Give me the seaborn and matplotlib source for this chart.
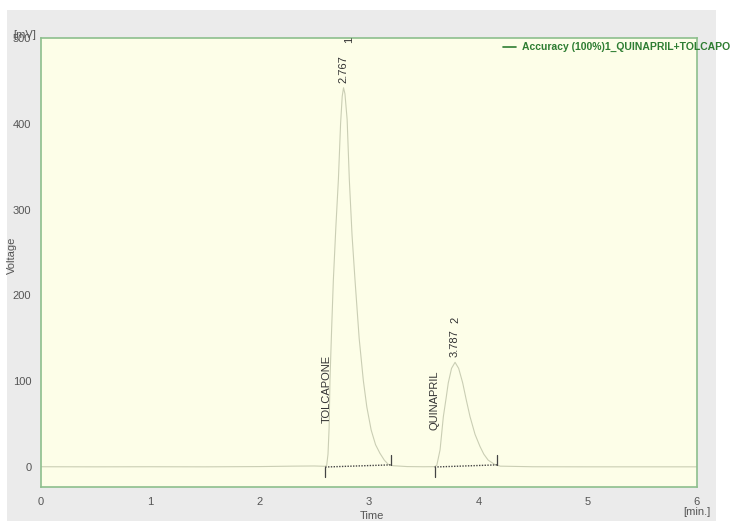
import matplotlib
matplotlib.use("Agg")
import matplotlib.pyplot as plt
from matplotlib.patches import Rectangle
from matplotlib.lines import Line2D
import seaborn as sns
import pandas as pd

# ---- data ----
time_min = [0.0, 0.5, 1.0, 1.5, 2.0, 2.3, 2.5, 2.60,
            2.613, 2.625, 2.635, 2.643, 2.658, 2.674, 2.697, 2.72, 2.74, 2.755, 2.767,
            2.78, 2.80, 2.82, 2.845, 2.872, 2.91, 2.948, 2.98, 3.02, 3.06, 3.10, 3.14, 3.177, 3.22,
            3.35, 3.50, 3.60,
            3.62, 3.65, 3.68, 3.705, 3.725, 3.755, 3.787,
            3.82, 3.857, 3.89, 3.924, 3.97, 4.015, 4.05, 4.09, 4.15, 4.20,
            4.5, 5.0, 5.5, 6.0]
voltage_mv = [0.3, 0.2, 0.3, 0.2, 0.5, 1.0, 1.2, 0.8,
              2, 15, 45, 101, 160, 218, 280, 335, 400, 432, 442,
              435, 405, 335, 270, 218, 150, 101, 70, 43, 26, 16, 8, 3, 1.5,
              0.5, 0.3, 0.4,
              2, 20, 58.7, 80, 98, 115, 122,
              115, 98, 78, 58.7, 38, 24, 15, 8, 3, 1,
              0.3, 0.2, 0.2, 0.2]

peak_names = ["TOLCAPONE", "QUINAPRIL"]
peak_numbers = ["1", "2"]
peak_times = [2.767, 3.787]
peak_heights = [442, 122]
integ_start = [2.60, 3.60]
integ_end = [3.20, 4.17]
integ_end_level = [2.5, 2.5]

x_ticks = [0, 1, 2, 3, 4, 5, 6]
y_ticks = [0, 100, 200, 300, 400, 500]
legend_label = "Accuracy (100%)1_QUINAPRIL+TOLCAPONE"

df = pd.DataFrame({"Time": time_min, "Voltage": voltage_mv})

# ---- style ----
sns.set_style("white")
plt.rcParams["font.family"] = ["Liberation Sans", "DejaVu Sans"]

W, H = 730, 521
fig = plt.figure(figsize=(W / 100, H / 100), dpi=100)
fig.patch.set_facecolor("white")
fig.add_artist(Rectangle((7 / W, 0), (716 - 7) / W, 1 - 10 / H,
                         transform=fig.transFigure, facecolor="#EBEBEB",
                         edgecolor="none", zorder=-10))

ax = fig.add_axes([41 / W, 1 - 487 / H, (697 - 41) / W, (487 - 38) / H])
ax.set_facecolor("#FDFEE8")

trace_color = "#CACEB4"
sns.lineplot(data=df, x="Time", y="Voltage", ax=ax, color=trace_color,
             linewidth=0.8, estimator=None, sort=False, legend=False)

# integration baselines and markers
for s, e, lvl in zip(integ_start, integ_end, integ_end_level):
    ax.plot([s, e], [0, lvl], color="#444444", linestyle=(0, (1, 1)), linewidth=1.0)
    ax.plot([s, s], [0, -11.5], color="#444444", linewidth=0.9)
    ax.plot([e, e], [lvl, lvl + 12], color="#444444", linewidth=0.9)

# annotations
ann_color = "#333333"
ax.text(peak_times[0], 448, f"{peak_times[0]:.3f}", rotation=90, ha="center",
        va="bottom", fontsize=8, color=ann_color)
ax.text(peak_times[0] + 0.05, 494, peak_numbers[0], rotation=90, ha="center",
        va="bottom", fontsize=8, color=ann_color, clip_on=False)
ax.text(peak_times[1], 128, f"{peak_times[1]:.3f}", rotation=90, ha="center",
        va="bottom", fontsize=8, color=ann_color)
ax.text(peak_times[1], 168, peak_numbers[1], rotation=90, ha="center",
        va="bottom", fontsize=8, color=ann_color)
ax.text(2.617, 51, peak_names[0], rotation=90, ha="center", va="bottom",
        fontsize=8, color=ann_color)
ax.text(3.60, 43, peak_names[1], rotation=90, ha="center", va="bottom",
        fontsize=8, color=ann_color)

# axes
ax.set_xlim(0, 6)
ax.set_ylim(-23.3, 500)
ax.set_xticks(x_ticks)
ax.set_yticks(y_ticks)
ax.set_xticklabels([str(t) for t in x_ticks])
ax.set_yticklabels([str(t) for t in y_ticks])
spine_color = "#8DBF8D"
for sp in ax.spines.values():
    sp.set_color(spine_color)
    sp.set_linewidth(1.2)
ax.tick_params(axis="both", direction="out", length=5, width=1,
               color=spine_color, labelcolor="#555555", labelsize=8, pad=2)
ax.tick_params(axis="x", length=6, pad=1.0)
ax.set_xlabel("")
ax.set_ylabel("")

fig.text(12 / W, 1 - 255 / H, "Voltage", rotation=90, ha="center", va="center",
         fontsize=8, color="#555555")
fig.text(372 / W, 1 - 516 / H, "Time", ha="center", va="center",
         fontsize=8, color="#555555")
fig.text(697 / W, 1 - 512 / H, "[min.]", ha="center", va="center",
         fontsize=8, color="#555555")
fig.text(25 / W, 1 - 35 / H, "[mV]", ha="center", va="center",
         fontsize=8, color="#555555")

# legend
fig.add_artist(Line2D([503 / W, 516 / W], [1 - 47 / H, 1 - 47 / H],
                      transform=fig.transFigure, color="#2E7D32", linewidth=1.2))
fig.text(522 / W, 1 - 47 / H, legend_label, ha="left", va="center",
         fontsize=7.5, fontweight="bold", color="#2E7D32")

fig.savefig("out.png", dpi=100)
